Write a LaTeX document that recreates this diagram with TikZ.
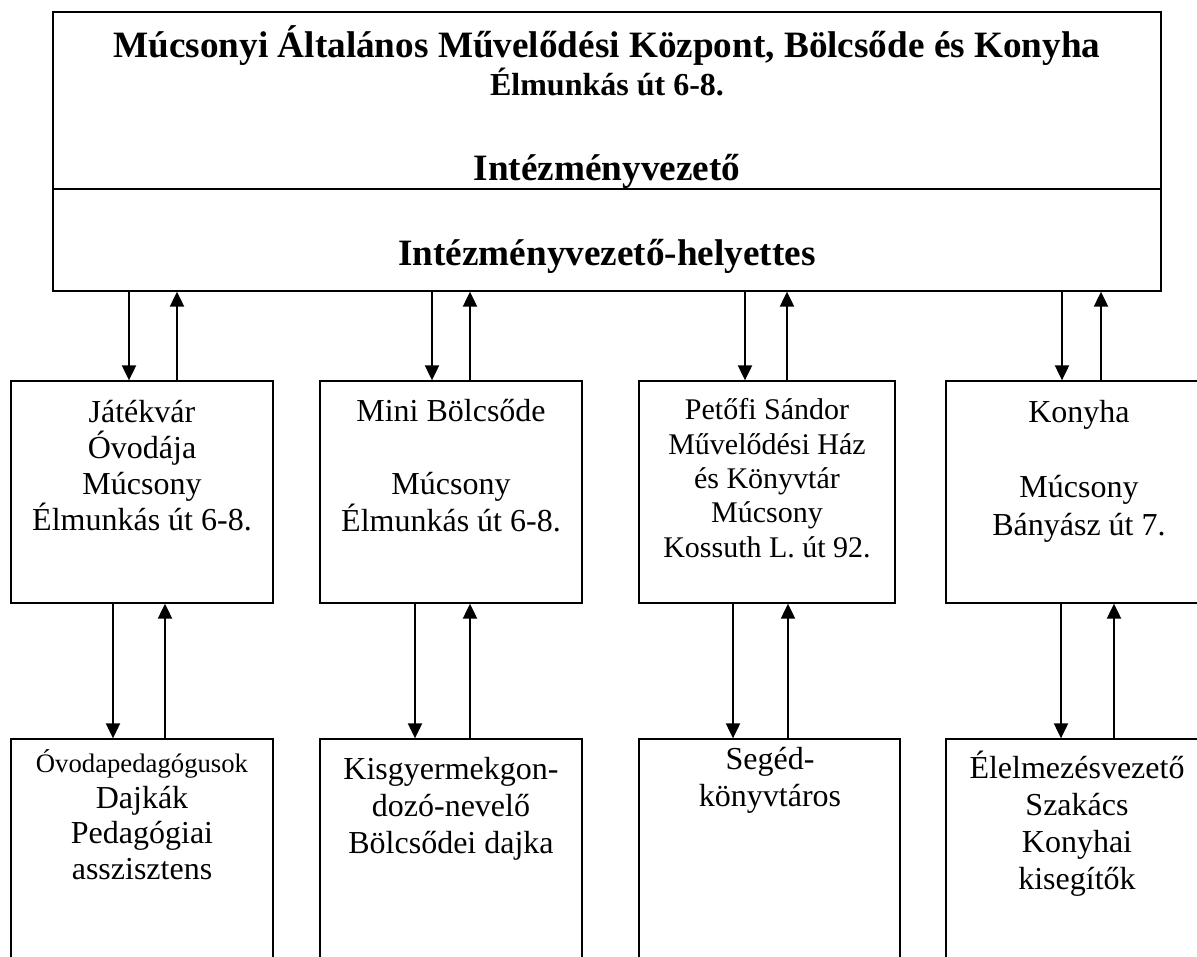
\documentclass[tikz,border=0pt]{standalone}
\usepackage{fontspec}
\setmainfont{Liberation Serif}
\usetikzlibrary{arrows.meta}
\tikzset{
  box/.style={draw, line width=1.3pt, inner sep=0pt},
  arr/.style={line width=2pt, -{Triangle[length=15pt,width=14pt]}},
  txt/.style={align=center, inner sep=0pt, anchor=base},
  big/.style={font=\fontsize{37.2}{40}\selectfont\bfseries},
  unit/.style={font=\fontsize{32}{36}\selectfont},
  staff/.style={font=\fontsize{32}{37}\selectfont},
}

\begin{document}
\begin{tikzpicture}[x=1pt, y=-1pt]
\useasboundingbox (0,0) rectangle (1197,956);
\clip (0,0) rectangle (1197,956);
% head box
\node[box, minimum width=1108, minimum height=279] (top) at (607,151.5) {};
\coordinate (cut) at (0,189);
\draw[line width=1.5pt] (top.west |- cut) -- (top.east |- cut);
\node[txt, big] (name) at (607,57) {Múcsonyi Általános Művelődési Központ, Bölcsőde és Konyha};
\node[txt, font=\fontsize{32}{36}\selectfont\bfseries] (addr) at (607,95) {Élmunkás út 6-8.};
\node[txt, big] (head) at (607,180) {Intézményvezető};
\node[txt, big] (deputy) at (607,265) {Intézményvezető-helyettes};
% units and staff
\foreach \n/\cx/\w in {1/142/262, 2/451/262, 3/767/256, 4/1078/264}
  \node[box, minimum width=\w, minimum height=222] (r\n) at (\cx,492) {};
\foreach \n/\cx/\w in {1/142/262, 2/451/262, 3/769.5/261, 4/1078/264}
  \node[box, minimum width=\w, minimum height=261] (s\n) at (\cx,869.5) {};
% arrows
\foreach \n/\dn/\up in {1/129/177, 2/432/470, 3/745/787, 4/1062/1101}{
  \coordinate (d\n) at (\dn,0);
  \coordinate (u\n) at (\up,0);
  \draw[arr] (d\n |- top.south) -- (d\n |- r\n.north);
  \draw[arr] (u\n |- r\n.north) -- (u\n |- top.south);}
\foreach \n/\dn/\up in {1/113/165, 2/415/470, 3/733/788, 4/1061/1114}{
  \coordinate (dd\n) at (\dn,0);
  \coordinate (uu\n) at (\up,0);
  \draw[arr] (dd\n |- r\n.south) -- (dd\n |- s\n.north);
  \draw[arr] (uu\n |- s\n.north) -- (uu\n |- r\n.south);}
% texts (base = last line)
\node[txt, unit] (t1) at (142,530) {Játékvár\\Óvodája\\Múcsony\\Élmunkás út 6-8.};
\node[txt, unit, font=\fontsize{32}{36.5}\selectfont] (t2) at (451,531) {Mini Bölcsőde\\[36.5pt]Múcsony\\Élmunkás út 6-8.};
\node[txt, unit, font=\fontsize{30}{34.3}\selectfont] (t3) at (767,557) {Petőfi Sándor\\Művelődési Ház\\és Könyvtár\\Múcsony\\Kossuth L. út 92.};
\node[txt, unit, font=\fontsize{32}{37.5}\selectfont] (t4) at (1079,535) {Konyha\\[37.5pt]Múcsony\\Bányász út 7.};
\node[txt, staff, font=\fontsize{32}{35.5}\selectfont] (p1) at (142,879) {{\fontsize{26.7}{30}\selectfont Óvodapedagógusok}\\Dajkák\\Pedagógiai\\asszisztens};
\node[txt, staff] (p2) at (451,853) {Kisgyermekgon-\\dozó-nevelő\\Bölcsődei dajka};
\node[txt, staff] (p3) at (770,806) {Segéd-\\könyvtáros};
\node[txt, staff] (p4) at (1077,889) {Élelmezésvezető\\Szakács\\Konyhai\\kisegítők};
\end{tikzpicture}
\end{document}
